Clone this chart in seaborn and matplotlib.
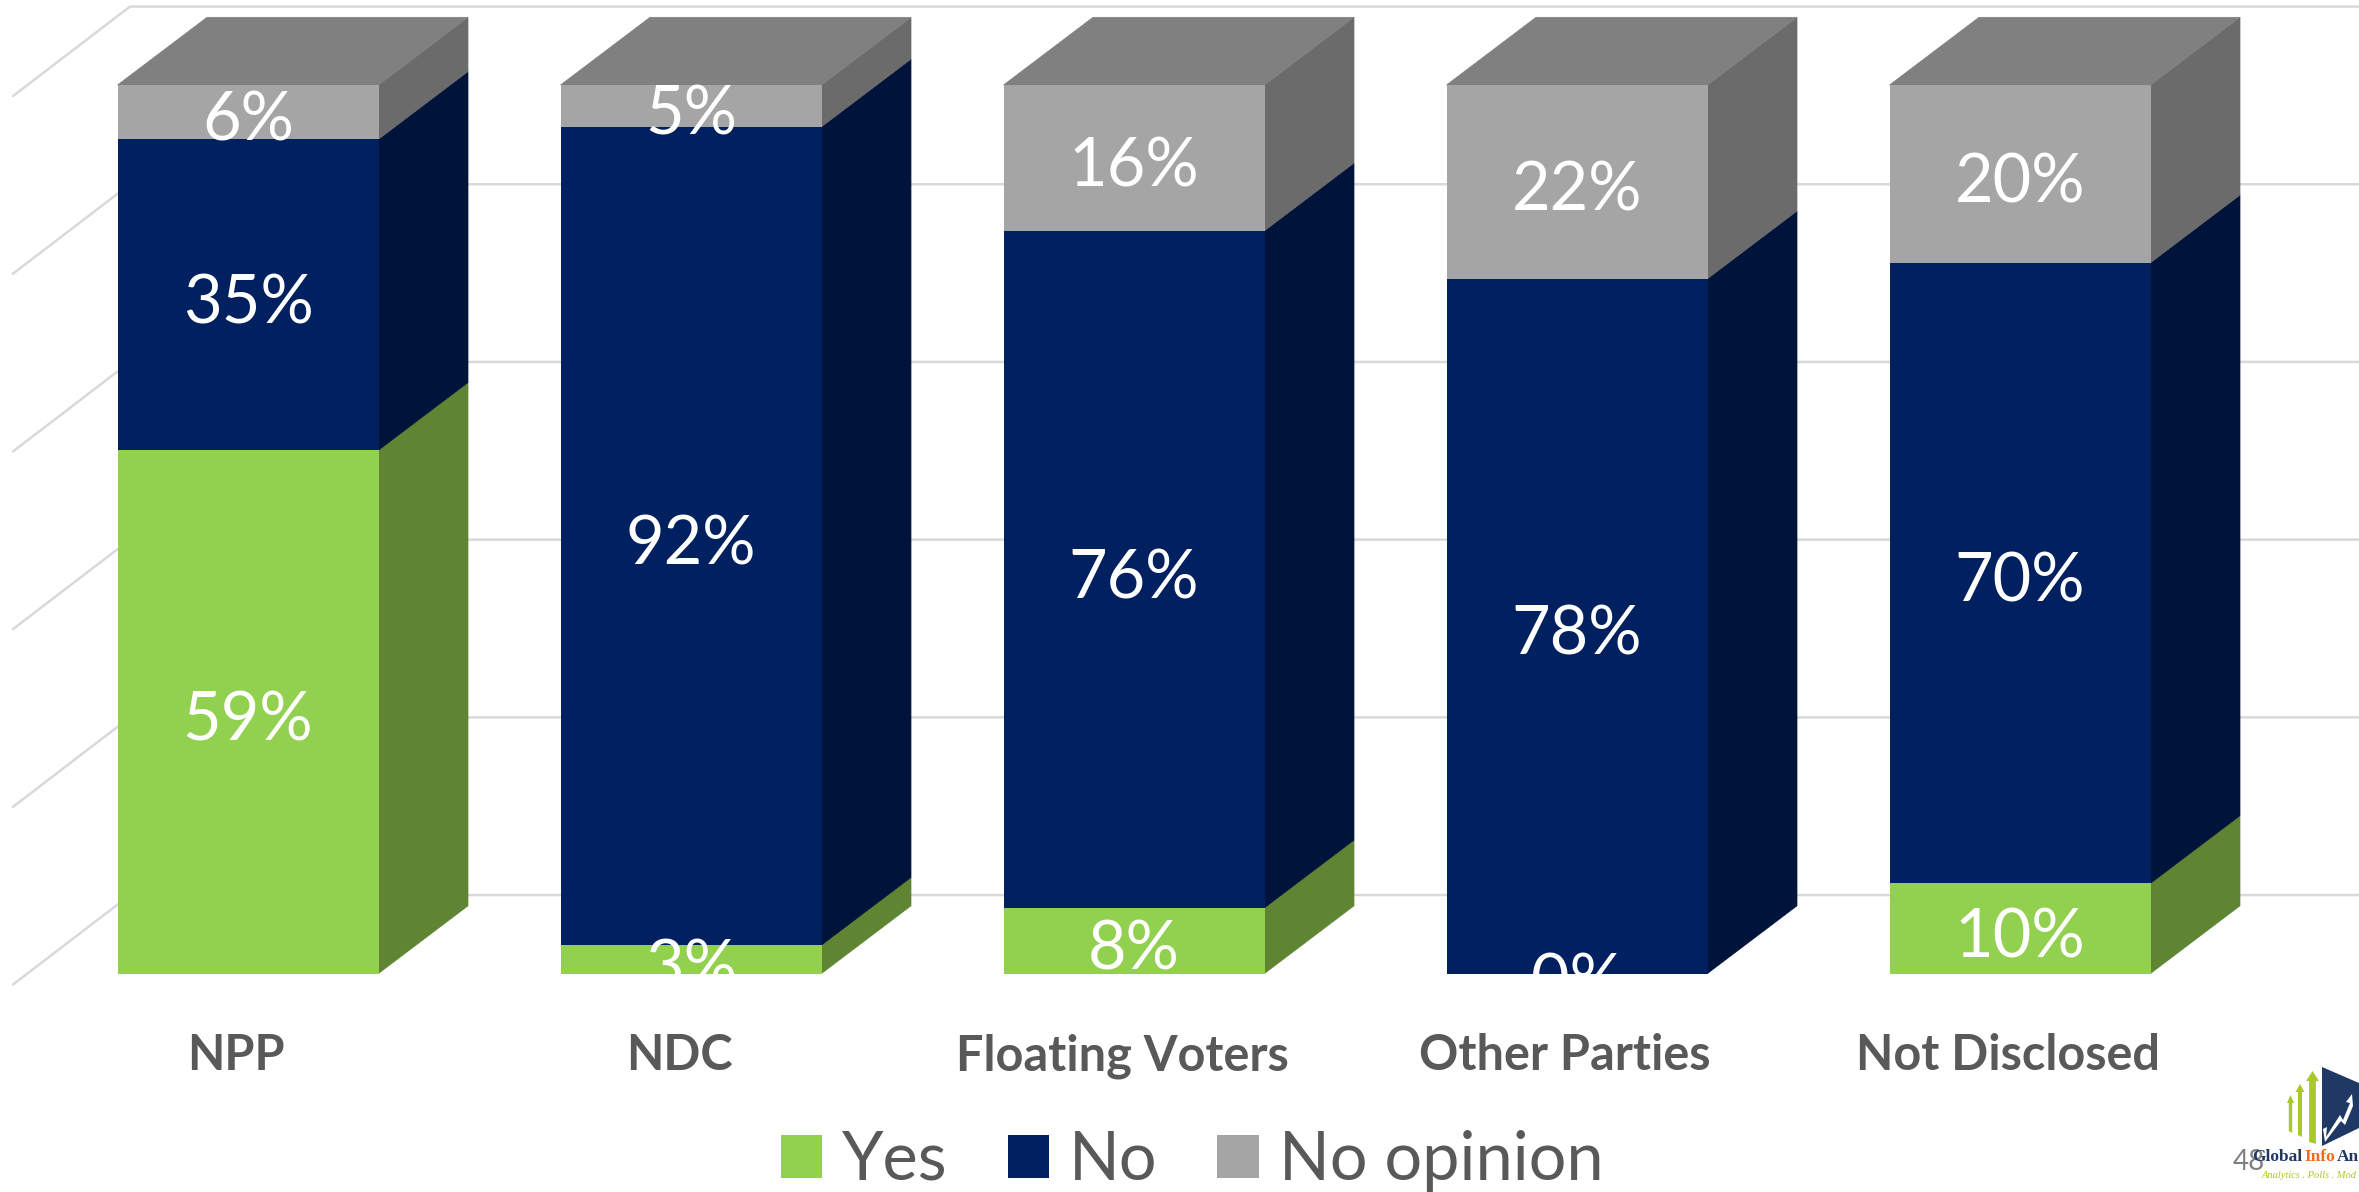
import numpy as np
import matplotlib
matplotlib.use("Agg")
import matplotlib.pyplot as plt
from matplotlib.patches import Polygon
from matplotlib.transforms import ScaledTranslation
import seaborn as sns

# Data (segment heights, labels as printed)
categorias = ["NPP", "NDC", "Floating Voters", "Other Parties", "Not Disclosed"]
yes = [58.9, 3.2, 7.4, 0, 10.15]
no = [35.0, 92.1, 76.2, 78.2, 69.85]
no_opinion = [6.1, 4.7, 16.4, 21.8, 20.0]
rotulos_yes = ["59%", "3%", "8%", "0%", "10%"]
rotulos_no = ["35%", "92%", "76%", "78%", "70%"]
rotulos_no_opinion = ["6%", "5%", "16%", "22%", "20%"]
grid_vals = [0, 20, 40, 60, 80, 100]

series = [("Yes", yes, rotulos_yes), ("No", no, rotulos_no), ("No opinion", no_opinion, rotulos_no_opinion)]
cores = {"Yes": "#92D050", "No": "#002060", "No opinion": "#A5A5A5"}
cores_lado = {"Yes": "#5F8533", "No": "#00133A", "No opinion": "#6B6B6B"}
cor_topo = "#808080"
cor_texto = "#595959"

W, H = 2359, 1192
passo_x = 443.0      # px between bars
centro0 = 248.0      # px of first bar centre
base_y = 973.5       # px of bar base
px_pct = 8.885       # px per percent
prof_x = 89.5 / passo_x
prof_y = 67.7 / px_pct

sns.set_theme(style="white")
plt.rcParams["font.family"] = ["Lato", "DejaVu Sans"]

fig = plt.figure(figsize=(W / 100, H / 100), dpi=100)
ax = fig.add_axes([0, 1 - base_y / H, 1, base_y / H])
ax.set_facecolor("none")

# Stacked bars
base = np.zeros(len(categorias))
for nome, vals, _ in series:
    sns.barplot(x=categorias, y=vals, bottom=base, color=cores[nome], saturation=1,
                width=261 / passo_x, label=nome, ax=ax, zorder=3, legend=False, linewidth=0)
    base = base + np.array(vals)

ax.set_xlim(-centro0 / passo_x, (W - centro0) / passo_x)
ax.set_ylim(0, base_y / px_pct)
meia = 261 / passo_x / 2

# Side faces and top
base = np.zeros(len(categorias))
for nome, vals, rotulos in series:
    for i, v in enumerate(vals):
        b = base[i]
        if v > 0:
            ax.add_patch(Polygon([(i + meia, b), (i + meia + prof_x, b + prof_y),
                                  (i + meia + prof_x, b + v + prof_y), (i + meia, b + v)],
                                 facecolor=cores_lado[nome], edgecolor=cores_lado[nome],
                                 lw=0.5, zorder=2, clip_on=False))
        # rotulo fica um pouco abaixo do meio, e cortado na base
        ax.text(i, b + v / 2 - 1.1, rotulos[i], color="white", fontsize=48, ha="center",
                va="center", zorder=5, clip_on=True)
    base = base + np.array(vals)

for i, total in enumerate(base):
    ax.add_patch(Polygon([(i - meia, total), (i + meia, total),
                          (i + meia + prof_x, total + prof_y), (i - meia + prof_x, total + prof_y)],
                         facecolor=cor_topo, edgecolor=cor_topo, lw=0.5, zorder=2))

# Gridlines: floor diagonal + back wall
x_frente = (13 - centro0) / passo_x
x_fundo = (130 - centro0) / passo_x
x_fim = (W - centro0) / passo_x
for v in grid_vals:
    ax.plot([x_frente, x_fundo, x_fim], [v - 1.24, v + 8.83, v + 8.83], color="#D9D9D9",
            lw=1.8, zorder=1, clip_on=False, solid_joinstyle="miter")

# Axis
sns.despine(ax=ax, left=True, bottom=True, top=True, right=True)
ax.set_yticks([])
ax.set_ylabel("")
ax.tick_params(axis="x", length=0, pad=43)
desloca = ScaledTranslation(-12 / 100, 0, fig.dpi_scale_trans)
for rot in ax.get_xticklabels():
    rot.set_fontsize(35)
    rot.set_fontweight("bold")
    rot.set_color(cor_texto)
    rot.set_transform(rot.get_transform() + desloca)

# Legend
handles, labels = ax.get_legend_handles_labels()
leg = fig.legend(handles[:3], labels[:3], ncol=3, loc="center", bbox_to_anchor=(1192 / W, 1 - 1161 / H),
                 frameon=False, fontsize=48, handlelength=0.62, handleheight=0.62,
                 handletextpad=0.3, columnspacing=0.9, borderpad=0, labelcolor=cor_texto)

# Logo and page number (figure pixel coordinates)
def px(x, y):
    return (x / W, 1 - y / H)

def forma(pontos, cor):
    fig.add_artist(Polygon([px(*p) for p in pontos], closed=True, facecolor=cor, edgecolor="none",
                           transform=fig.transFigure, zorder=6))

def seta(xc, topo, meia_larg, meia_haste, ombro, fundo):
    forma([(xc, topo), (xc + meia_larg, ombro), (xc + meia_haste, ombro), (xc + meia_haste, fundo),
           (xc - meia_haste, fundo - 2), (xc - meia_haste, ombro), (xc - meia_larg, ombro)], "#A9C92A")

forma([(2322, 1067), (2359, 1083), (2359, 1128), (2322, 1146)], "#1F3864")
seta(2312.5, 1071, 6.5, 3.4, 1081, 1144)
seta(2300, 1084, 4.5, 2, 1092, 1137)
seta(2290.5, 1095, 3.5, 1.7, 1103, 1133)
forma([(2323, 1129), (2327, 1127), (2326, 1137), (2340, 1115), (2343, 1120), (2350, 1103),
       (2346, 1102), (2352, 1094), (2353, 1106), (2345, 1125), (2341, 1121), (2325, 1142)], "white")

fig.text(2233 / W, 1 - 1162 / H, "48", fontsize=20, color="#808080", va="center", ha="left", zorder=7)
y_logo = 1 - 1157 / H
fig.text(2252 / W, y_logo, "Global", fontsize=12.5, color="#1F3864", family="Liberation Serif",
         weight="bold", va="center", zorder=8)
fig.text(2304 / W, y_logo, "Info", fontsize=12.5, color="#F26A1B", family="Liberation Serif",
         weight="bold", va="center", zorder=8)
fig.text(2337 / W, y_logo, "An", fontsize=12.5, color="#1F3864", family="Liberation Serif",
         weight="bold", va="center", zorder=8)
fig.text(2262 / W, 1 - 1175 / H, "Analytics . Polls . Mod", fontsize=7.5, color="#A9C92A",
         family="Liberation Serif", style="italic", va="center", zorder=8)

fig.savefig("out.png", dpi=100)
